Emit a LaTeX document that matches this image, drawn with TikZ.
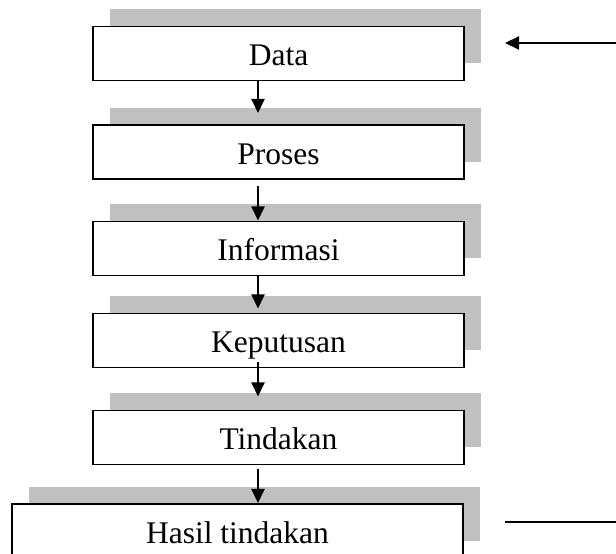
\documentclass[tikz,border=0pt]{standalone}
\usepackage{fontspec}
\setmainfont{Liberation Serif}
\usetikzlibrary{shadows,arrows.meta,calc}

\definecolor{shadegray}{RGB}{192,192,192}

\tikzset{
  x=1pt, y=1pt,
  stage/.style={
    draw=black, line width=1.6pt, fill=white,
    minimum height=54pt, inner sep=0pt, outer sep=0pt,
    text height=25pt, text depth=0pt,
    font=\fontsize{31.5}{36}\selectfont,
    general shadow={fill=shadegray, shadow xshift=17pt, shadow yshift=17pt}
  },
  flow/.style={line width=2pt, -{Triangle[length=14pt,width=13pt]}},
  plain/.style={line width=2pt}
}

\begin{document}
\begin{tikzpicture}
  \useasboundingbox (0,0) rectangle (616,554);

  % chain of stages, top to bottom
  \node[stage, minimum width=371pt] (data)  at (278.5,500.5) {Data};
  \node[stage, minimum width=371pt] (proses) at (278.5,402) {Proses};
  \node[stage, minimum width=371pt] (info)  at (278.5,305.5) {Informasi};
  \node[stage, minimum width=371pt] (keput) at (278.5,213.5) {Keputusan};
  \node[stage, minimum width=371pt] (tind)  at (278.5,116.5) {Tindakan};
  \node[stage, minimum width=451pt] (hasil) at (237.5,23) {Hasil tindakan};

  % column of the downward arrows
  \coordinate (ax) at (258,0);

  \draw[flow] (data.south -| ax) -- ($(proses.north -| ax)+(0,12)$);
  \draw[flow] ($(proses.south -| ax)+(0,-7)$) -- ($(info.north -| ax)+(0,1)$);
  \draw[flow] (info.south -| ax) -- ($(keput.north -| ax)+(0,5)$);
  \draw[flow] ($(keput.south -| ax)+(0,5)$) -- ($(tind.north -| ax)+(0,14)$);
  \draw[flow] ($(tind.south -| ax)+(0,-5)$) -- ($(hasil.north -| ax)+(0,1)$);

  % feedback ends on the right
  \coordinate (fbin)  at (616,511);
  \coordinate (fbtip) at (505,511);
  \coordinate (fbout) at (505,32);
  \coordinate (fbend) at (616,32);
  \draw[flow] (fbin) -- (fbtip);
  \draw[plain] (fbout) -- (fbend);
\end{tikzpicture}
\end{document}
